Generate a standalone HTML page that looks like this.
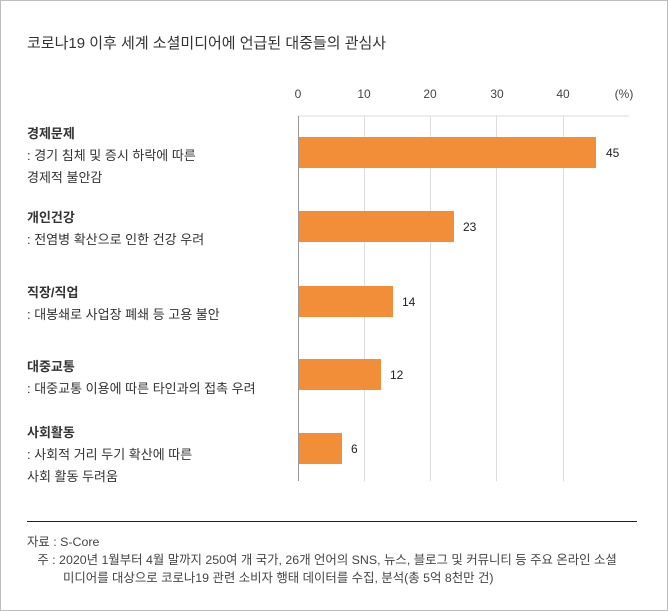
<!DOCTYPE html>
<html><head><meta charset="utf-8"><style>
body{margin:0;background:#fff}
.w{position:relative;width:666px;height:609px;border:1px solid #bdbdbd;background:#fff;font-family:"Liberation Sans","Noto Sans CJK KR",sans-serif;color:#333;overflow:hidden}
.t{position:absolute;white-space:nowrap}
</style></head><body><div class="w">
<div class="t" style="left:26px;top:31px;font-size:15px;color:#333">코로나19 이후 세계 소셜미디어에 언급된 대중들의 관심사</div>
<svg style="position:absolute;left:0;top:0" width="666" height="609">
<g stroke="#ddd" stroke-width="1">
<line x1="297" y1="115" x2="628" y2="115"/>
<line x1="363.5" y1="115" x2="363.5" y2="480"/>
<line x1="429.5" y1="115" x2="429.5" y2="480"/>
<line x1="495.5" y1="115" x2="495.5" y2="480"/>
<line x1="562.5" y1="115" x2="562.5" y2="480"/>
</g>
<line x1="297.5" y1="115" x2="297.5" y2="480" stroke="#999"/>
<g fill="#f28d38">
<rect x="298" y="136" width="297" height="31"/>
<rect x="298" y="210" width="155" height="31"/>
<rect x="298" y="285" width="94" height="31"/>
<rect x="298" y="358" width="82" height="31"/>
<rect x="298" y="432" width="43" height="31"/>
</g>
<g font-size="12" fill="#444" font-family="Liberation Sans,sans-serif">
<text x="297" y="97" text-anchor="middle">0</text>
<text x="363" y="97" text-anchor="middle">10</text>
<text x="429" y="97" text-anchor="middle">20</text>
<text x="496" y="97" text-anchor="middle">30</text>
<text x="562" y="97" text-anchor="middle">40</text>
<text x="623" y="97" text-anchor="middle">(%)</text>
</g>
<g font-size="12" fill="#222" font-family="Liberation Sans,sans-serif">
<text x="605" y="156">45</text>
<text x="462" y="230">23</text>
<text x="401" y="305">14</text>
<text x="389" y="378">12</text>
<text x="350" y="452">6</text>
</g>
<line x1="26" y1="520.5" x2="636" y2="520.5" stroke="#222"/>
</svg>
<div class="t" style="left:26px;top:122px;font-size:13px;line-height:22px;color:#333"><b style="font-weight:600">경제문제</b><br>: 경기 침체 및 증시 하락에 따른<br>경제적 불안감</div>
<div class="t" style="left:26px;top:206px;font-size:13px;line-height:22px;color:#333"><b style="font-weight:600">개인건강</b><br>: 전염병 확산으로 인한 건강 우려</div>
<div class="t" style="left:26px;top:281px;font-size:13px;line-height:22px;color:#333"><b style="font-weight:600">직장/직업</b><br>: 대봉쇄로 사업장 폐쇄 등 고용 불안</div>
<div class="t" style="left:26px;top:355px;font-size:13px;line-height:22px;color:#333"><b style="font-weight:600">대중교통</b><br>: 대중교통 이용에 따른 타인과의 접촉 우려</div>
<div class="t" style="left:26px;top:421px;font-size:13px;line-height:22px;color:#333"><b style="font-weight:600">사회활동</b><br>: 사회적 거리 두기 확산에 따른<br>사회 활동 두려움</div>
<div class="t" style="left:26px;top:532px;font-size:12.4px;line-height:18px;color:#444">자료 : S-Core<br>&nbsp;&nbsp;&nbsp;주 : 2020년 1월부터 4월 말까지 250여 개 국가, 26개 언어의 SNS, 뉴스, 블로그 및 커뮤니티 등 주요 온라인 소셜<br><span style="padding-left:36px">미디어를 대상으로 코로나19 관련 소비자 행태 데이터를 수집, 분석(총 5억 8천만 건)</span></div>
</div></body></html>
